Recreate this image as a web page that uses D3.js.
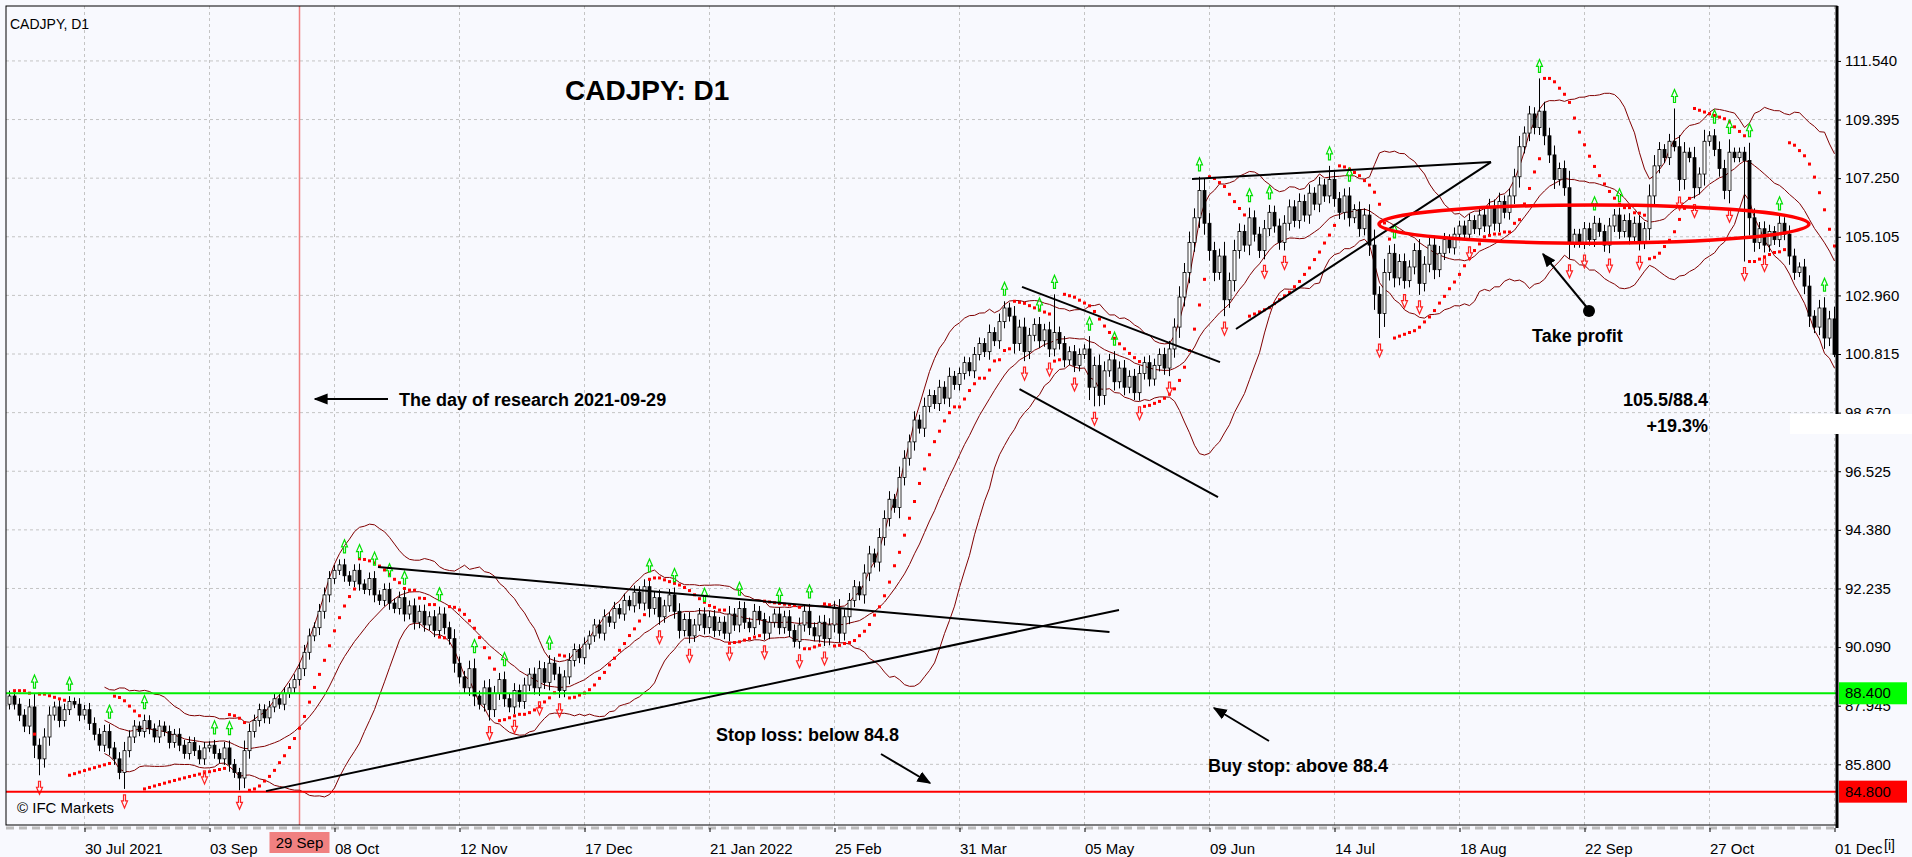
<!DOCTYPE html>
<html>
<head>
<meta charset="utf-8">
<script src="https://cdn.jsdelivr.net/npm/d3@7"></script>
<style>
  body { margin: 0; background: #fff; }
  svg text { font-family: "Liberation Sans", Arial, sans-serif; }
</style>
</head>
<body>
<svg id="chart" width="1912" height="857"></svg>
<script>
// daily closes, CADJPY D1
const closes = [
  88.3, 88.0, 87.6, 87.2, 87.9, 86.5, 86.0, 86.8, 87.6, 87.9, 87.4, 87.8, 88.1, 88.0, 87.6,
  87.8, 87.3, 86.9, 86.5, 87.0, 86.4, 86.0, 85.5, 86.3, 86.8, 87.2, 87.0, 87.4, 87.1, 86.8, 87.2, 87.0, 86.6, 86.9, 86.5, 86.2, 86.6, 86.3, 86.0, 86.4,
  86.5, 86.2, 86.0, 86.4, 85.8, 85.5, 85.3, 86.3, 87.0, 87.4, 87.8, 87.5, 87.9, 88.2, 88.0, 88.4, 88.6, 88.9, 89.3, 89.9, 90.5, 90.8, 91.4, 92.0, 92.6,
  92.9, 93.1, 92.7, 92.5, 92.9, 92.4, 92.2, 92.6, 92.0, 91.8, 92.2, 91.7, 91.5, 91.9, 91.3, 91.6, 91.0, 91.4, 90.9, 91.2, 90.7, 91.3, 90.8, 90.4, 89.5,
  89.0, 88.6, 89.3, 88.3, 88.0, 88.6, 87.8, 88.4, 88.9, 88.2, 87.9, 88.5, 88.1, 88.7, 89.1, 88.6, 89.3, 88.8, 89.5, 89.1, 88.5, 89.0, 89.6, 90.0, 89.7,
  90.2, 90.5, 90.9, 90.6, 91.2, 91.0, 91.5, 91.3, 91.8, 91.6, 92.1, 91.7, 92.3, 91.5, 91.9, 91.2, 91.6, 92.0, 91.4, 90.7, 91.1, 90.5, 90.9, 91.3, 90.8,
  91.2, 90.7, 91.0, 90.6, 91.3, 90.9, 91.5, 91.0, 90.8, 91.4, 91.1, 90.6, 91.0, 91.3, 90.8, 91.2, 90.7, 90.3, 90.9, 91.4, 90.8, 90.5, 91.0, 90.4, 90.9,
  91.5, 90.6, 91.2, 91.8, 92.3, 92.0, 92.8, 93.5, 93.2, 94.1, 94.8, 95.5, 95.2, 96.3, 97.0, 97.6, 98.4, 98.1, 98.9, 99.3, 99.0, 99.6, 99.2, 100.0, 99.7,
  100.1, 100.5, 100.2, 100.8, 101.2, 100.9, 101.6, 101.3, 102.0, 102.5, 102.2, 101.2, 101.8, 100.9, 101.5, 101.9, 101.3, 101.7, 101.0, 101.6, 101.2, 100.6, 100.9, 100.4, 100.8,
  101.0, 99.6, 100.4, 99.3, 100.2, 100.6, 99.8, 100.3, 99.6, 100.0, 99.4, 100.1, 100.5, 99.9, 100.4, 100.8, 100.3, 101.0, 101.8, 102.9, 103.8, 104.9, 105.8, 106.8, 105.6,
  104.6, 103.8, 104.4, 102.8, 103.5, 104.6, 105.3, 104.8, 105.8, 105.2, 104.6, 105.4, 106.0, 105.5, 104.9, 105.6, 106.2, 105.7, 106.4, 105.9, 106.7, 106.3, 107.0, 106.6, 107.2,
  106.5, 106.0, 106.6, 105.8, 106.1, 105.4, 105.9, 104.8,
  103.0, 102.3, 103.8, 104.5, 103.6, 104.2, 103.5,
  104.0, 104.6, 103.4, 104.1, 104.8, 103.9, 104.5, 105.0, 104.7, 105.2,
  105.5, 105.2, 105.7, 105.4, 105.9, 105.5, 106.2, 105.6, 106.4, 106.0, 106.6,
  107.3, 108.4, 108.9, 109.6, 109.1, 109.7, 108.8, 108.1, 107.2, 107.6,
  106.9, 104.9, 105.2, 104.9, 105.4, 105.0, 105.6, 105.3, 104.8, 105.5,
  105.9, 105.3, 105.7, 105.1, 105.6, 104.9, 105.4, 106.6, 107.7, 108.3,
  108.0, 108.6, 108.4, 107.2, 108.2, 108.0, 106.9, 107.4, 108.6, 108.8,
  108.3, 107.6, 106.8, 108.2, 108.0, 108.2, 107.9, 105.8, 104.9, 105.4,
  104.8, 105.3, 105.0, 105.6, 105.2, 104.4, 103.8, 104.0, 103.3, 102.2,
  101.8, 102.5, 101.4, 102.1, 100.8
];
const firstOpen = 88.0;
// a few long shadows seen on the picture
const spikes = [
  { i: 6, lo: 85.4 }, { i: 23, lo: 84.9 }, { i: 46, lo: 84.85 }, { i: 66, hi: 93.3 },
  { i: 96, lo: 87.4 }, { i: 209, hi: 103.0 }, { i: 217, lo: 98.9 }, { i: 238, hi: 107.3 },
  { i: 243, lo: 102.2 }, { i: 264, hi: 107.7 }, { i: 274, lo: 101.4 }, { i: 306, hi: 110.9 },
  { i: 312, lo: 104.3 }, { i: 333, hi: 109.8 }, { i: 347, lo: 104.2 }, { i: 365, lo: 100.7 }
];

const priceTicks = [85.8, 87.945, 90.09, 92.235, 94.38, 96.525, 98.67, 100.815, 102.96, 105.105, 107.25, 109.395, 111.54];
const dateTickIdx = [15, 40, 65, 90, 115, 140, 165, 190, 215, 240, 265, 290, 315, 340, 365];
const dateTickLabels = ["30 Jul 2021", "03 Sep", "08 Oct", "12 Nov", "17 Dec", "21 Jan 2022", "25 Feb",
  "31 Mar", "05 May", "09 Jun", "14 Jul", "18 Aug", "22 Sep", "27 Oct", "01 Dec"];
const researchIdx = 58, researchLabel = "29 Sep";
const buyStop = 88.4, stopLoss = 84.8;

// trend lines drawn by the analyst: [idx, price] pairs
const trendLines = [
  [[73.7, 93.02], [220, 90.64]],
  [[51.3, 84.82], [221.9, 91.45]],
  [[202.5, 103.27], [242.1, 100.52]],
  [[202, 99.53], [241.7, 95.58]],
  [[236.5, 107.22], [296.3, 107.84]],
  [[245.3, 101.73], [296.3, 107.84]]
];
const ellipse = { i: 316.9, p: 105.57, ri: 43, rp: 0.7 };

// ---- OHLC
const data = closes.map((c, i) => {
  const o = i === 0 ? firstOpen : closes[i - 1];
  const w = 0.12 + 0.25 * Math.abs(c - o);
  return { i, o, c, h: Math.max(o, c) + w, l: Math.min(o, c) - w };
});
spikes.forEach(s => { if (s.hi) data[s.i].h = s.hi; if (s.lo) data[s.i].l = s.lo; });

const L = 6, R = 1837, T = 6, B = 825;
const x = d3.scaleLinear().domain([0, 365]).range([9.5, 1834.5]);
const y = d3.scaleLinear().domain([83.58, 113.55]).range([B, T]);

const svg = d3.select('#chart');
svg.append('rect').attr('width', 1912).attr('height', 857).attr('fill', '#f8f9fe');
svg.append('defs').append('clipPath').attr('id', 'clip')
  .append('rect').attr('x', L).attr('y', T).attr('width', R - L).attr('height', B - T);

// grid
const grid = svg.append('g').attr('stroke', '#c4c4c4').attr('stroke-dasharray', '3,3');
priceTicks.forEach(p => grid.append('line').attr('x1', L).attr('x2', R).attr('y1', y(p)).attr('y2', y(p)));
dateTickIdx.forEach(t => grid.append('line').attr('x1', x(t)).attr('x2', x(t)).attr('y1', T).attr('y2', B));

const plot = svg.append('g').attr('clip-path', 'url(#clip)');

// research day
plot.append('line').attr('x1', x(researchIdx)).attr('x2', x(researchIdx)).attr('y1', T).attr('y2', B)
  .attr('stroke', '#f08080').attr('stroke-width', 1.5);

// ---- Bollinger bands (20, 2)
const bb = [];
for (let i = 19; i < closes.length; i++) {
  const win = closes.slice(i - 19, i + 1);
  const m = d3.mean(win), sd = Math.sqrt(d3.mean(win, v => (v - m) ** 2));
  bb.push({ i, m, u: m + 2 * sd, d: m - 2 * sd });
}
['u', 'm', 'd'].forEach(k => {
  plot.append('path').datum(bb).attr('fill', 'none').attr('stroke', '#800000').attr('stroke-width', 1)
    .attr('d', d3.line().x(d => x(d.i)).y(d => y(d[k])));
});

// ---- candles
const cg = plot.append('g');
cg.selectAll('line.w').data(data).enter().append('line')
  .attr('x1', d => x(d.i)).attr('x2', d => x(d.i)).attr('y1', d => y(d.h)).attr('y2', d => y(d.l))
  .attr('stroke', '#000');
cg.selectAll('rect').data(data).enter().append('rect')
  .attr('x', d => x(d.i) - 1.5).attr('width', 3)
  .attr('y', d => y(Math.max(d.o, d.c))).attr('height', d => Math.max(1, Math.abs(y(d.o) - y(d.c))))
  .attr('fill', d => d.c >= d.o ? '#fff' : '#000').attr('stroke', '#000').attr('stroke-width', 0.8);

// ---- parabolic SAR
const sar = [];
let up = data[1].c > data[0].c, ps = up ? data[0].l : data[0].h, ep = up ? data[0].h : data[0].l, af = 0.02;
for (let i = 1; i < data.length; i++) {
  let s = ps + af * (ep - ps);
  if (up) {
    s = Math.min(s, data[i - 1].l, data[Math.max(0, i - 2)].l);
    if (data[i].l < s) { up = false; s = ep; ep = data[i].l; af = 0.02; }
    else if (data[i].h > ep) { ep = data[i].h; af = Math.min(af + 0.02, 0.2); }
  } else {
    s = Math.max(s, data[i - 1].h, data[Math.max(0, i - 2)].h);
    if (data[i].h > s) { up = true; s = ep; ep = data[i].h; af = 0.02; }
    else if (data[i].l < ep) { ep = data[i].l; af = Math.min(af + 0.02, 0.2); }
  }
  sar.push({ i, s });
  ps = s;
}
plot.selectAll('rect.sar').data(sar).enter().append('rect').attr('class', 'sar')
  .attr('x', d => x(d.i) - 1.5).attr('y', d => y(d.s) - 1.5).attr('width', 3).attr('height', 3).attr('fill', '#ff0000');

// ---- fractals
const fup = [], fdn = [];
for (let i = 2; i < data.length - 2; i++) {
  const n = [i - 2, i - 1, i + 1, i + 2];
  if (n.every(j => data[i].h > data[j].h)) fup.push(data[i]);
  if (n.every(j => data[i].l < data[j].l)) fdn.push(data[i]);
}
const arrowUp = 'M0,0 L-3,7 L-1,7 L-1,13 L1,13 L1,7 L3,7 Z';
plot.selectAll('path.fu').data(fup).enter().append('path')
  .attr('transform', d => `translate(${x(d.i)},${y(d.h) - 19})`).attr('d', arrowUp)
  .attr('fill', 'none').attr('stroke', '#00e000').attr('stroke-width', 1.2);
plot.selectAll('path.fd').data(fdn).enter().append('path')
  .attr('transform', d => `translate(${x(d.i)},${y(d.l) + 19}) scale(1,-1)`).attr('d', arrowUp)
  .attr('fill', 'none').attr('stroke', '#ff2020').attr('stroke-width', 1.2);

// ---- levels
plot.append('line').attr('x1', L).attr('x2', R).attr('y1', y(buyStop)).attr('y2', y(buyStop)).attr('stroke', '#00ee00').attr('stroke-width', 2);
plot.append('line').attr('x1', L).attr('x2', R).attr('y1', y(stopLoss)).attr('y2', y(stopLoss)).attr('stroke', '#ff0000').attr('stroke-width', 2);

// ---- analyst lines
trendLines.forEach(l => plot.append('line')
  .attr('x1', x(l[0][0])).attr('y1', y(l[0][1])).attr('x2', x(l[1][0])).attr('y2', y(l[1][1]))
  .attr('stroke', '#000').attr('stroke-width', 2));
plot.append('ellipse').attr('cx', x(ellipse.i)).attr('cy', y(ellipse.p))
  .attr('rx', x(ellipse.i + ellipse.ri) - x(ellipse.i)).attr('ry', y(ellipse.p - ellipse.rp) - y(ellipse.p))
  .attr('fill', 'none').attr('stroke', '#ff0000').attr('stroke-width', 3.5);

// ---- arrows & notes
svg.append('defs').append('marker').attr('id', 'ah').attr('viewBox', '0 0 10 10').attr('refX', 9).attr('refY', 5)
  .attr('markerWidth', 7).attr('markerHeight', 7).attr('orient', 'auto')
  .append('path').attr('d', 'M0,1 L10,5 L0,9 Z').attr('fill', '#000');
const arrows = [[388, 399, 315, 399], [881, 754, 930, 783], [1269, 741, 1214, 708], [1589, 310, 1543, 254]];
arrows.forEach(a => svg.append('line').attr('x1', a[0]).attr('y1', a[1]).attr('x2', a[2]).attr('y2', a[3])
  .attr('stroke', '#000').attr('stroke-width', 2).attr('marker-end', 'url(#ah)'));
svg.append('circle').attr('cx', 1589).attr('cy', 311).attr('r', 6).attr('fill', '#000');

const note = (t, tx, ty, size, anchor) => svg.append('text').attr('x', tx).attr('y', ty).attr('font-size', size)
  .attr('font-weight', 'bold').attr('text-anchor', anchor || 'start').attr('fill', '#000').text(t);
note('CADJPY: D1', 565, 100, 28);
note('The day of research 2021-09-29', 399, 406, 18);
note('Take profit', 1532, 342, 18);
note('105.5/88.4', 1708, 406, 18, 'end');
note('+19.3%', 1708, 432, 18, 'end');
note('Stop loss: below 84.8', 716, 741, 18);
note('Buy stop: above 88.4', 1208, 772, 18);
svg.append('text').attr('x', 10).attr('y', 29).attr('font-size', 14).text('CADJPY, D1');
svg.append('text').attr('x', 17).attr('y', 813).attr('font-size', 15).text('\u00a9 IFC Markets');

// ---- frame and axes
svg.append('rect').attr('x', L).attr('y', T).attr('width', R - L).attr('height', B - T)
  .attr('fill', 'none').attr('stroke', '#000');
svg.append('line').attr('x1', R).attr('x2', R).attr('y1', T).attr('y2', B + 3).attr('stroke', '#000').attr('stroke-width', 3);
svg.append('line').attr('x1', L).attr('x2', R).attr('y1', B + 3).attr('y2', B + 3)
  .attr('stroke', '#bbb').attr('stroke-width', 3).attr('stroke-dasharray', '8,5');

const yAxis = d3.axisRight(y).tickValues(priceTicks).tickFormat(d3.format('.3f')).tickSize(4);
const ya = svg.append('g').attr('transform', `translate(${R},0)`).call(yAxis);
ya.select('.domain').remove();
ya.selectAll('text').attr('font-size', 15).attr('fill', '#000').attr('x', 8);

const xAxis = d3.axisBottom(x).tickValues(dateTickIdx).tickFormat((d, k) => dateTickLabels[k]).tickSize(4);
const xa = svg.append('g').attr('transform', `translate(0,${B + 3})`).call(xAxis);
xa.select('.domain').remove();
xa.selectAll('text').attr('font-size', 15).attr('fill', '#000').attr('text-anchor', 'start').attr('dy', '1.25em');

// research date label
const rx = x(researchIdx);
svg.append('rect').attr('x', rx - 30).attr('y', 832).attr('width', 60).attr('height', 21).attr('fill', '#f08080');
svg.append('text').attr('x', rx).attr('y', 848).attr('text-anchor', 'middle').attr('font-size', 15).text(researchLabel);

// level labels on the price axis
[[buyStop, '#00ff00'], [stopLoss, '#ff0000']].forEach(([p, col]) => {
  svg.append('rect').attr('x', R + 2).attr('y', y(p) - 11).attr('width', 68).attr('height', 22).attr('fill', col);
  svg.append('text').attr('x', R + 8).attr('y', y(p) + 5).attr('font-size', 15).text(d3.format('.3f')(p));
});
// white box over the 98.670 label, as in the source
svg.append('rect').attr('x', 1790).attr('y', 414).attr('width', 122).attr('height', 20).attr('fill', '#fff');
svg.append('text').attr('x', 1884).attr('y', 850).attr('font-size', 14).text('[i]');
</script>
</body>
</html>
